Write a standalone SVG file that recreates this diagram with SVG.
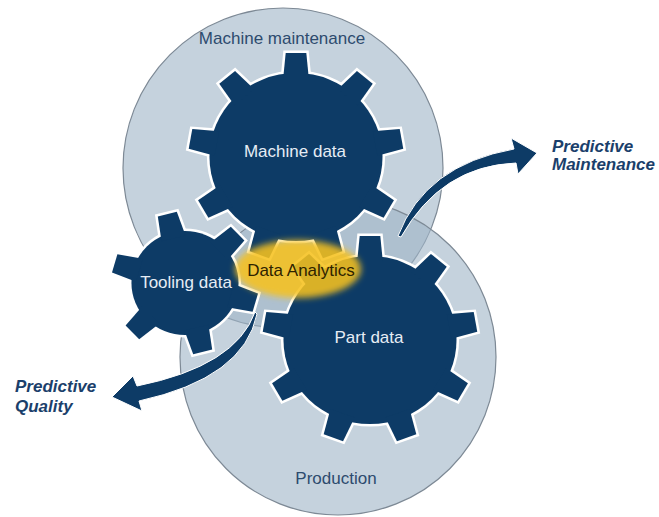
<svg xmlns="http://www.w3.org/2000/svg" width="659" height="517" viewBox="0 0 659 517">
<style>
.zone{fill:#9fb4c7;fill-opacity:.6;stroke:#7d8995;stroke-width:1.2}
.gout{fill:#fff;stroke:#fff;stroke-width:5;stroke-linejoin:miter}
.gin{fill:#0d3b66}
.arrow{fill:#0d3b66;stroke:#fff;stroke-width:1;stroke-linejoin:round}
.zl{font-family:"Liberation Sans",Arial,sans-serif;font-size:17px;fill:#2d4b6e;text-anchor:middle}
.gl{font-family:"Liberation Sans",Arial,sans-serif;font-size:17px;fill:#e6edf5;text-anchor:middle}
.pl{font-family:"Liberation Sans",Arial,sans-serif;font-size:17px;font-weight:bold;font-style:italic;fill:#1b3f6b}
.da{font-family:"Liberation Sans",Arial,sans-serif;font-size:17px;fill:#2e2300;text-anchor:middle}
</style>
<defs>
<polygon id="toothL" points="-12.5,-78 12.5,-78 10,-104 -10,-104"/>
<polygon id="toothS" points="-12,-46 12,-46 9.5,-71 -9.5,-71"/>
<g id="gearL">
<circle r="84"/>
<use href="#toothL"/>
<use href="#toothL" transform="rotate(40)"/>
<use href="#toothL" transform="rotate(80)"/>
<use href="#toothL" transform="rotate(120)"/>
<use href="#toothL" transform="rotate(160)"/>
<use href="#toothL" transform="rotate(200)"/>
<use href="#toothL" transform="rotate(240)"/>
<use href="#toothL" transform="rotate(280)"/>
<use href="#toothL" transform="rotate(320)"/>
</g>
<g id="gearS">
<circle r="52"/>
<use href="#toothS" transform="rotate(-14)"/>
<use href="#toothS" transform="rotate(46)"/>
<use href="#toothS" transform="rotate(106)"/>
<use href="#toothS" transform="rotate(166)"/>
<use href="#toothS" transform="rotate(226)"/>
<use href="#toothS" transform="rotate(286)"/>
</g>
<filter id="glow" x="-20%" y="-40%" width="140%" height="180%">
<feGaussianBlur stdDeviation="3"/>
</filter>
</defs>

<g id="zone-machine-maintenance">
<circle class="zone" cx="283" cy="168" r="160"/>
<text class="zl" x="282" y="44">Machine maintenance</text>
</g>
<g id="zone-production">
<circle class="zone" cx="338" cy="357" r="158"/>
<text class="zl" x="336" y="484">Production</text>
</g>

<g id="gear-machine-data">
<g transform="translate(296,157) scale(1.03,1)">
<use href="#gearL" class="gout"/>
<use href="#gearL" class="gin"/>
</g>
<text class="gl" x="295" y="157">Machine data</text>
</g>

<g id="gear-tooling-data">
<g transform="translate(185,283) scale(1.03,1)">
<use href="#gearS" class="gout"/>
<use href="#gearS" class="gin"/>
</g>
<text class="gl" x="186" y="288">Tooling data</text>
</g>

<g id="gear-part-data">
<g transform="translate(370,340) scale(1.03,1)">
<use href="#gearL" class="gout"/>
<use href="#gearL" class="gin"/>
</g>
<text class="gl" x="369" y="343">Part data</text>
</g>

<g id="connectors">
<path class="arrow" d="M398,236 Q425,165 514,149 L511,138 L537,153 L518,174 L516,163 Q441,166 401,237 Z"/>
<path class="arrow" d="M255,312 Q236,366 137,386 L133,376 L112,397 L142,411 L139,401 Q244,378 257,314 Z"/>
</g>

<g id="data-analytics">
<ellipse cx="298" cy="269" rx="63" ry="29" fill="#f6c11f" fill-opacity="0.88" filter="url(#glow)"/>
<text class="da" x="301" y="276">Data Analytics</text>
</g>

<g id="label-predictive-maintenance">
<text class="pl" x="552" y="152">Predictive</text>
<text class="pl" x="552" y="170">Maintenance</text>
</g>
<g id="label-predictive-quality">
<text class="pl" x="15" y="392">Predictive</text>
<text class="pl" x="15" y="412">Quality</text>
</g>
</svg>
